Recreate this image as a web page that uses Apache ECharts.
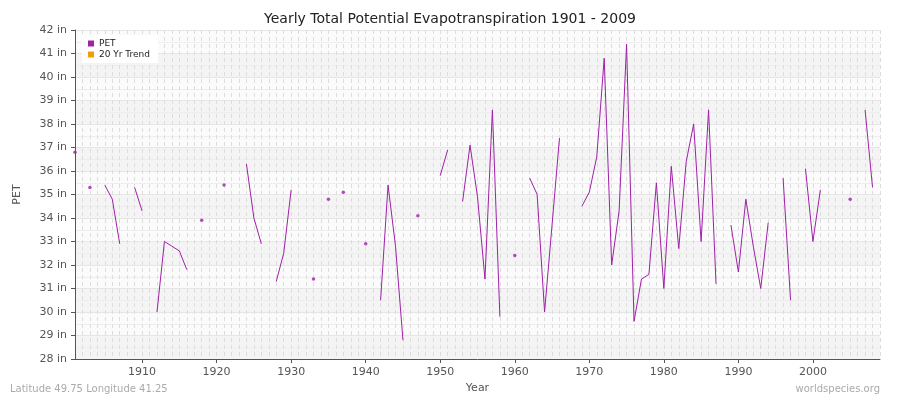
<!DOCTYPE html>
<html>
<head>
<meta charset="utf-8">
<script src="https://cdn.jsdelivr.net/npm/echarts@6/dist/echarts.min.js"></script>
<style>html,body{margin:0;padding:0;background:#fff}#chart{width:900px;height:400px}</style>
</head>
<body>
<div id="chart"></div>
<script>
var startYear = 1901, endYear = 2009;
var petValues = [
	36.8, null, 35.3, null, 35.4, 34.8, 32.9, null, 35.3, 34.3,   // 1901-1910
	null, 30.0, 33.0, 32.8, 32.6, 31.8, null, 33.9, null, null,   // 1911-1920
	35.4, null, null, 36.3, 34.0, 32.9, null, 31.3, 32.5, 35.2,   // 1921-1930
	null, null, 31.4, null, 34.8, null, 35.1, null, null, 32.9,   // 1931-1940
	null, 30.5, 35.4, 32.8, 28.8, null, 34.1, null, null, 35.8,   // 1941-1950
	36.9, null, 34.7, 37.1, 34.9, 31.4, 38.6, 29.8, null, 32.4,   // 1951-1960
	null, 35.7, 35.0, 30.0, 33.7, 37.4, null, null, 34.5, 35.1,   // 1961-1970
	36.6, 40.8, 32.0, 34.3, 41.4, 29.6, 31.4, 31.6, 35.5, 31.0,   // 1971-1980
	36.2, 32.7, 36.4, 38.0, 33.0, 38.6, 31.2, null, 33.7, 31.7,   // 1981-1990
	34.8, 32.8, 31.0, 33.8, null, 35.7, 30.5, null, 36.1, 33.0,   // 1991-2000
	35.2, null, null, null, 34.8, null, 38.6, 35.3, null          // 2001-2009
];
var yTicks = [28, 29, 30, 31, 32, 33, 34, 35, 36, 37, 38, 39, 40, 41, 42];

var years = [];
for (var y = startYear; y <= endYear; y++) years.push(String(y));

// single years with no neighbours get drawn as dots
var lonePoints = petValues.map(function(v, i){
	var prev = i > 0 ? petValues[i-1] : null;
	var next = i < petValues.length - 1 ? petValues[i+1] : null;
	return (v != null && prev == null && next == null) ? v : null;
});

var myChart = echarts.init(document.getElementById('chart'));
var option = {
	animation: false,
	backgroundColor: '#fff',
	title: {
		text: 'Yearly Total Potential Evapotranspiration 1901 - 2009',
		left: 'center', top: 7,
		textStyle: { fontFamily: 'DejaVu Sans', fontSize: 14, fontWeight: 'normal', color: '#222' }
	},
	legend: {
		left: 82, top: 35, orient: 'vertical', itemGap: 2,
		itemWidth: 6, itemHeight: 6, icon: 'rect',
		backgroundColor: '#fff', padding: [4, 8, 4, 6],
		textStyle: { fontFamily: 'DejaVu Sans', fontSize: 9, color: '#222' },
		data: ['PET', '20 Yr Trend']
	},
	grid: { left: 75, right: 20, top: 30, bottom: 41 },
	graphic: [
		{ type: 'text', left: 10, bottom: 6, style: { text: 'Latitude 49.75 Longitude 41.25', fill: '#aaa', font: '10px DejaVu Sans' } },
		{ type: 'text', right: 20, bottom: 6, style: { text: 'worldspecies.org', fill: '#aaa', font: '10px DejaVu Sans' } }
	],
	xAxis: {
		type: 'category', data: years, boundaryGap: false,
		name: 'Year', nameLocation: 'middle', nameGap: 21,
		nameTextStyle: { fontFamily: 'DejaVu Sans', fontSize: 11, color: '#555' },
		axisLine: { lineStyle: { color: '#555' } },
		axisTick: { interval: function(i, v){ return (+v) % 10 === 0; }, length: 4, lineStyle: { color: '#555' } },
		axisLabel: { interval: function(i, v){ return (+v) % 10 === 0; }, fontFamily: 'DejaVu Sans', fontSize: 11, color: '#555' },
		splitLine: { show: true, interval: 0, lineStyle: { color: '#ddd', type: [4, 3] } }
	},
	yAxis: {
		type: 'value', min: yTicks[0], max: yTicks[yTicks.length-1], interval: 1,
		name: 'PET', nameLocation: 'middle', nameGap: 52,
		nameTextStyle: { fontFamily: 'DejaVu Sans', fontSize: 11, color: '#555' },
		axisLine: { show: true, lineStyle: { color: '#555' } },
		axisTick: { show: true, length: 4, lineStyle: { color: '#555' } },
		axisLabel: { formatter: '{value} in', fontFamily: 'DejaVu Sans', fontSize: 11, color: '#555' },
		splitLine: { lineStyle: { color: '#e6e6e6' } },
		minorTick: { show: false, splitNumber: 2 },
		minorSplitLine: { show: true, lineStyle: { color: '#eeeeee' } },
		splitArea: { show: true, areaStyle: { color: ['#f4f4f4', '#fbfbfb'] } }
	},
	series: [
		{
			name: 'PET', type: 'line', data: petValues, connectNulls: false,
			showSymbol: false, color: '#a020a8',
			lineStyle: { width: 1, color: '#a020a8' }
		},
		{
			name: 'PET', type: 'scatter', data: lonePoints,
			symbolSize: 3.5, itemStyle: { color: '#a020a8' }
		},
		{
			name: '20 Yr Trend', type: 'line', data: [], color: '#f0a000'
		}
	]
};
myChart.setOption(option);
</script>
</body>
</html>
